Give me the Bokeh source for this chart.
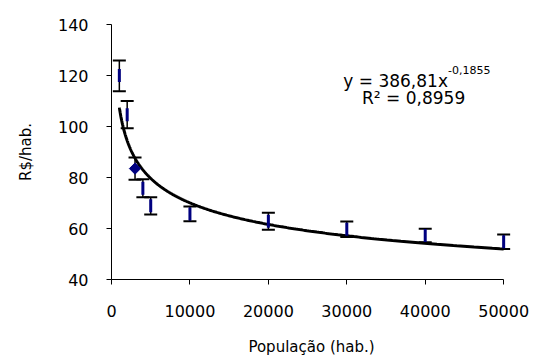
import numpy as np
from bokeh.plotting import figure
from bokeh.models import ColumnDataSource, Whisker, TeeHead, Label, FixedTicker
from bokeh.embed import file_html
from bokeh.resources import INLINE

# ---- data ----
populacao = [1000, 2000, 3000, 4000, 5000, 10000, 20000, 30000, 40000, 50000]
custo_medio = [120.0, 104.6, 83.5, 75.8, 68.9, 65.7, 62.8, 59.7, 57.3, 54.8]
limite_sup = [125.9, 110.0, 87.8, 79.3, 72.3, 68.6, 66.2, 62.7, 59.9, 57.6]
limite_inf = [113.8, 99.3, 79.1, 72.3, 65.5, 62.8, 59.5, 56.7, 54.6, 52.0]
destaque = 2  # point drawn as a diamond

# power trendline shown on the chart: y = 386,81 x^-0,1855
coef_a = 386.81
coef_b = -0.1855
x_ticks = [0, 10000, 20000, 30000, 40000, 50000]
y_ticks = [40, 60, 80, 100, 120, 140]

FONT = "DejaVu Sans"

p = figure(width=530, height=358, output_backend="svg", toolbar_location=None,
           x_range=(0, 51000), y_range=(40, 140),
           min_border_left=111, min_border_right=19, min_border_top=24,
           min_border_bottom=78)
p.outline_line_color = None
p.xgrid.visible = False
p.ygrid.visible = False
p.background_fill_color = "white"
p.border_fill_color = "white"

src = ColumnDataSource(dict(x=populacao, y=custo_medio, upper=limite_sup, lower=limite_inf))

wh = Whisker(source=src, base="x", upper="upper", lower="lower",
             line_color="black", line_width=1.5,
             upper_head=TeeHead(size=13, line_color="black", line_width=2),
             lower_head=TeeHead(size=13, line_color="black", line_width=2))
wh.level = "underlay"
p.add_layout(wh)

# trendline
xs = np.geomspace(populacao[0], populacao[-1], 400)
ys = coef_a * xs ** coef_b
p.line(xs, ys, line_color="black", line_width=3)

# markers
idx_dash = [i for i in range(len(populacao)) if i != destaque]
p.scatter([populacao[i] for i in idx_dash], [custo_medio[i] for i in idx_dash],
          marker="dash", angle=np.pi / 2, size=13, line_color="#000080", line_width=3)
p.scatter([populacao[destaque]], [custo_medio[destaque]], marker="square", angle=np.pi / 4,
          size=8, fill_color="#000080", line_color="#000080")

# equation annotations
p.add_layout(Label(x=42900, y=117.7, text="y = 386,81x", text_align="right",
                   text_baseline="alphabetic", text_font=FONT, text_font_size="17px",
                   text_color="black"))
p.add_layout(Label(x=42900, y=122.0, text="-0,1855", text_align="left",
                   text_baseline="alphabetic", text_font=FONT, text_font_size="11px",
                   text_color="black"))
p.add_layout(Label(x=38520, y=111.0, text="R² = 0,8959", text_align="center",
                   text_baseline="alphabetic", text_font=FONT, text_font_size="17px",
                   text_color="black"))

# axes
for ax in (p.xaxis[0], p.yaxis[0]):
    ax.axis_line_color = "black"
    ax.axis_line_width = 1
    ax.major_tick_line_color = "black"
    ax.major_tick_out = 5
    ax.major_tick_in = 0
    ax.minor_tick_line_color = None
    ax.major_label_text_font = FONT
    ax.major_label_text_font_size = "16px"
    ax.major_label_text_color = "black"
    ax.axis_label_text_font = FONT
    ax.axis_label_text_font_size = "15px"
    ax.axis_label_text_font_style = "normal"
    ax.axis_label_text_color = "black"

p.xaxis.ticker = FixedTicker(ticks=x_ticks)
p.yaxis.ticker = FixedTicker(ticks=y_ticks)
p.xaxis.bounds = (0, 50000)
p.xaxis.major_label_standoff = 20
p.yaxis.major_label_standoff = 18
p.xaxis.axis_label = "População (hab.)"
p.yaxis.axis_label = "R$/hab."
p.xaxis.axis_label_standoff = 18
p.yaxis.axis_label_standoff = 20

open("out.html", "w").write(file_html(p, INLINE))
